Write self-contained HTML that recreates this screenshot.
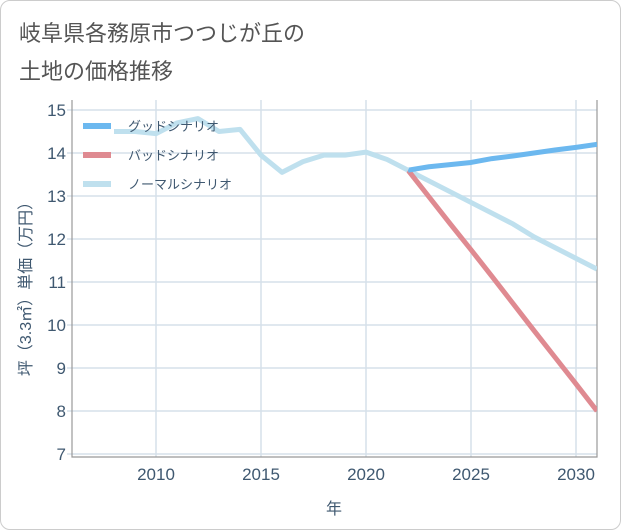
<!DOCTYPE html>
<html><head><meta charset="utf-8"><style>
body{margin:0;background:#fff;font-family:"Liberation Sans","Noto Sans CJK JP",sans-serif}
#wrap{position:relative;width:619px;height:528px;border:1px solid #ccc;border-radius:10px;overflow:hidden;background:#fff}
#title{position:absolute;left:18px;top:14px;font-size:22px;line-height:38px;color:#555;font-family:"Liberation Sans","Noto Sans CJK JP",sans-serif}
svg text{font-family:"Liberation Sans","Noto Sans CJK JP",sans-serif;fill:#3f5870}
</style></head><body>
<div id="wrap">
<div id="title">岐阜県各務原市つつじが丘の<br>土地の価格推移</div>
<svg id="c" width="621" height="530" style="position:absolute;left:-1px;top:-1px"></svg>
</div>
<script>
const years=[2008,2009,2010,2011,2012,2013,2014,2015,2016,2017,2018,2019,2020,2021,2022];
const normalHist=[14.5,14.5,14.45,14.7,14.8,14.5,14.55,13.95,13.55,13.8,13.95,13.95,14.02,13.85,13.6];
const futYears=[2022,2023,2024,2025,2026,2027,2028,2029,2030,2031];
const good=[13.6,13.68,13.73,13.78,13.87,13.93,14.0,14.07,14.13,14.2];
const bad=[13.6,12.98,12.36,11.75,11.13,10.5,9.87,9.25,8.63,8.0];
const normalFut=[13.6,13.35,13.1,12.85,12.6,12.35,12.05,11.8,11.55,11.3];
const xTicks=[2010,2015,2020,2025,2030];
const yTicks=[7,8,9,10,11,12,13,14,15];
const L=72,R=597,T=100,B=457;
const X=y=>156+(y-2010)*21;
const Y=v=>454-(v-7)*43;
const s=document.getElementById('c');const NS='http://www.w3.org/2000/svg';
function mk(t,a,p){const e=document.createElementNS(NS,t);for(const k in a)e.setAttribute(k,a[k]);(p||s).appendChild(e);return e;}
xTicks.forEach(t=>{const l=mk('line',{x1:X(t),x2:X(t),y1:T,y2:B,stroke:'#d5e0ea','stroke-width':1.5});


const tx=mk('text',{x:X(t),y:B+23,'text-anchor':'middle','font-size':17});tx.textContent=t;

});
yTicks.forEach(t=>{const l=mk('line',{x1:L-5,x2:R,y1:Y(t),y2:Y(t),stroke:'#d5e0ea','stroke-width':1.5});


const tx=mk('text',{x:L-6,y:Y(t)+6,'text-anchor':'end','font-size':17});tx.textContent=t;

});
const ax=mk('path',{d:`M${L} ${T}V${B}H${R}V${T}`,fill:'none',stroke:'#999','stroke-width':1.2});


const cp=mk('clipPath',{id:'cl'});mk('rect',{x:L,y:T,width:R-L,height:B-T},cp);
function line(xs,vs,col,name){const p=mk('polyline',{points:xs.map((y,i)=>X(y)+','+Y(vs[i])).join(' '),fill:'none',stroke:col,'stroke-width':5,'stroke-linejoin':'round','clip-path':'url(#cl)'});

}
line(futYears,normalFut,'#bfe0ee','normal-scenario-forecast');
line(futYears,bad,'#df8a91','bad-scenario-line');
line(futYears,good,'#6cb8ef','good-scenario-line');
line(years,normalHist,'#bfe0ee','normal-scenario-history');
const leg=[['グッドシナリオ','#6cb8ef'],['バッドシナリオ','#df8a91'],['ノーマルシナリオ','#bfe0ee']];
leg.forEach((d,i)=>{const y=126+i*29;
const g=mk('g',{});


mk('line',{x1:83,x2:111,y1:y,y2:y,stroke:d[1],'stroke-width':6},g);
const t=mk('text',{x:128,y:y+5,'font-size':13},g);t.textContent=d[0];});
const xt=mk('text',{x:334,y:514,'text-anchor':'middle','font-size':16});xt.textContent='年';


const yt=mk('text',{x:0,y:0,'text-anchor':'middle','font-size':16,transform:'translate(31,285) rotate(-90)'});yt.textContent='坪（3.3㎡）単価（万円）';


</script>
</body></html>
